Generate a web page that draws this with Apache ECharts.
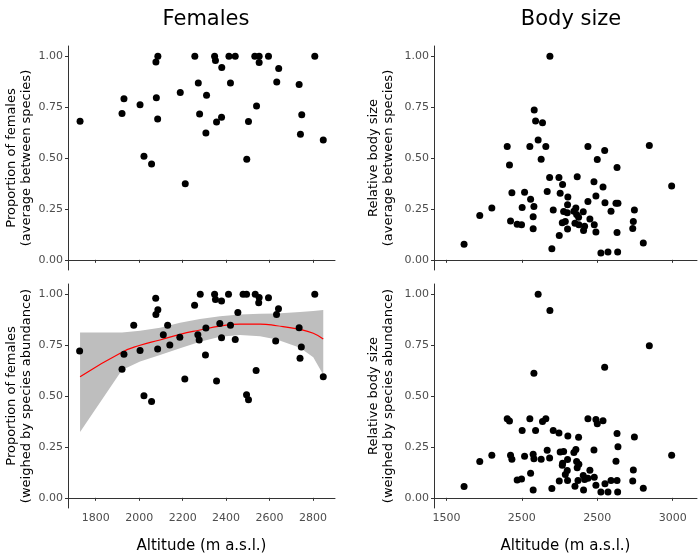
<!DOCTYPE html>
<html lang="en">
<head>
    <meta charset="UTF-8">
    <title>Females and body size by altitude</title>
    <script src="https://cdn.jsdelivr.net/npm/echarts@6/dist/echarts.min.js"></script>
    <style>
        body { margin: 0; background: #fff; }
        #main { width: 700px; height: 553px; }
    </style>
</head>
<body>
<div id="main"></div>
<script>
    // Females, average between species
    var femAvgAlt = [1728, 1921, 1930, 2004, 2022, 2057, 2077, 2086, 2079, 2085, 2189, 2212, 2256, 2272, 2278, 2307, 2310, 2347, 2351, 2356, 2379, 2380, 2413, 2420, 2442, 2495, 2503, 2532, 2540, 2552, 2552, 2595, 2633, 2642, 2736, 2742, 2748, 2808, 2847];
    var femAvgVal = [0.680, 0.719, 0.791, 0.762, 0.509, 0.470, 0.971, 1.0, 0.796, 0.692, 0.822, 0.374, 1.0, 0.868, 0.716, 0.623, 0.808, 1.0, 0.979, 0.677, 0.700, 0.945, 1.0, 0.868, 1.0, 0.494, 0.679, 1.0, 0.755, 1.0, 0.969, 1.0, 0.873, 0.940, 0.861, 0.617, 0.713, 1.0, 0.589];

    // Females, weighed by species abundance
    var femWAlt = [1726, 1921, 1930, 1975, 2004, 2022, 2057, 2076, 2077, 2086, 2085, 2111, 2131, 2141, 2187, 2210, 2255, 2270, 2276, 2281, 2305, 2307, 2347, 2351, 2356, 2371, 2379, 2379, 2411, 2420, 2442, 2454, 2478, 2494, 2494, 2503, 2538, 2534, 2552, 2550, 2595, 2632, 2641, 2628, 2736, 2746, 2740, 2808, 2847];
    var femWVal = [0.721, 0.631, 0.705, 0.847, 0.724, 0.501, 0.473, 0.980, 0.900, 0.923, 0.731, 0.801, 0.847, 0.750, 0.788, 0.584, 0.946, 0.801, 0.775, 1.0, 0.701, 0.834, 1.0, 0.974, 0.574, 0.856, 0.966, 0.786, 1.0, 0.848, 0.778, 0.910, 1.0, 1.0, 0.506, 0.481, 0.625, 1.0, 0.984, 0.958, 0.982, 0.900, 0.928, 0.770, 0.835, 0.741, 0.685, 1.0, 0.595];

    // loess fit + confidence band (weighed panel)
    var smoothAlt = [1728, 1921, 2004, 2096, 2188, 2280, 2372, 2464, 2556, 2633, 2740, 2801, 2847];
    var smoothFit = [0.595, 0.715, 0.749, 0.775, 0.803, 0.824, 0.843, 0.853, 0.853, 0.845, 0.827, 0.808, 0.780];
    var bandHi = [0.812, 0.812, 0.821, 0.835, 0.860, 0.878, 0.892, 0.900, 0.904, 0.905, 0.912, 0.918, 0.922];
    var bandLo = [0.323, 0.628, 0.669, 0.701, 0.734, 0.767, 0.791, 0.799, 0.794, 0.778, 0.737, 0.690, 0.604];

    // Body size, average between species
    var bodyAvgAlt = [1617, 1721, 1801, 1903, 1918, 1934, 1925, 1969, 1998, 2002, 2018, 2053, 2058, 2075, 2075, 2080, 2082, 2091, 2108, 2128, 2137, 2159, 2168, 2186, 2184, 2199, 2208, 2246, 2248, 2254, 2270, 2268, 2277, 2288, 2301, 2303, 2305, 2303, 2345, 2352, 2358, 2363, 2367, 2376, 2378, 2407, 2409, 2416, 2438, 2438, 2451, 2478, 2480, 2491, 2491, 2500, 2524, 2538, 2549, 2551, 2571, 2591, 2624, 2631, 2631, 2637, 2635, 2735, 2739, 2746, 2805, 2845, 2993];
    var bodyAvgVal = [0.077, 0.218, 0.254, 0.556, 0.466, 0.329, 0.191, 0.175, 0.172, 0.257, 0.332, 0.556, 0.298, 0.152, 0.211, 0.262, 0.736, 0.682, 0.589, 0.494, 0.673, 0.556, 0.336, 1.0, 0.404, 0.054, 0.245, 0.404, 0.119, 0.327, 0.370, 0.182, 0.237, 0.188, 0.231, 0.151, 0.308, 0.270, 0.239, 0.180, 0.254, 0.223, 0.408, 0.209, 0.172, 0.236, 0.144, 0.165, 0.556, 0.286, 0.200, 0.383, 0.172, 0.314, 0.136, 0.493, 0.033, 0.358, 0.537, 0.280, 0.038, 0.239, 0.278, 0.453, 0.134, 0.278, 0.038, 0.154, 0.188, 0.245, 0.082, 0.561, 0.363];

    // Body size, weighed by species abundance
    var bodyWAlt = [1617, 1721, 1801, 1903, 1918, 1925, 1934, 1969, 1998, 2002, 2018, 2053, 2058, 2075, 2080, 2075, 2080, 2091, 2108, 2128, 2137, 2159, 2168, 2186, 2184, 2199, 2208, 2246, 2248, 2254, 2270, 2268, 2277, 2288, 2301, 2303, 2305, 2303, 2345, 2352, 2358, 2363, 2367, 2376, 2378, 2372, 2407, 2409, 2416, 2438, 2438, 2451, 2478, 2480, 2491, 2491, 2500, 2524, 2538, 2549, 2551, 2571, 2591, 2624, 2631, 2631, 2637, 2635, 2735, 2739, 2746, 2805, 2845, 2993];
    var bodyWVal = [0.055, 0.178, 0.209, 0.388, 0.377, 0.209, 0.189, 0.088, 0.093, 0.331, 0.204, 0.388, 0.121, 0.214, 0.192, 0.038, 0.612, 0.330, 1.0, 0.189, 0.375, 0.388, 0.233, 0.920, 0.196, 0.046, 0.330, 0.318, 0.083, 0.225, 0.170, 0.160, 0.228, 0.114, 0.134, 0.188, 0.303, 0.085, 0.223, 0.057, 0.237, 0.178, 0.148, 0.297, 0.165, 0.085, 0.109, 0.038, 0.090, 0.388, 0.096, 0.135, 0.235, 0.101, 0.385, 0.062, 0.364, 0.029, 0.378, 0.641, 0.069, 0.029, 0.085, 0.179, 0.316, 0.085, 0.251, 0.029, 0.083, 0.137, 0.299, 0.047, 0.747, 0.209];

    // tick labels
    var yTicks = [0, 0.25, 0.5, 0.75, 1];
    var yTickText = ['0.00', '0.25', '0.50', '0.75', '1.00'];
    var femTicks = [1800, 2000, 2200, 2400, 2600, 2800];
    var bodyTicks = [1500, 2000, 2500, 3000];
    var bodyTickText = ['1500', '2500', '2500', '3000'];

    function zip(a, b) {
        return a.map(function (v, i) { return [v, b[i]]; });
    }

    var FONT = 'DejaVu Sans';
    var axisCol = '#333';

    function xAxisOpt(gi, min, max, ticks, texts, showLabel) {
        return {
            type: 'value', gridIndex: gi, min: min, max: max,
            splitLine: { show: false },
            axisLine: { lineStyle: { color: axisCol, width: 1 } },
            axisTick: { show: true, length: 3, lineStyle: { color: axisCol }, customValues: ticks },
            axisLabel: {
                show: showLabel, customValues: ticks, margin: 5,
                color: '#4d4d4d', fontSize: 11, fontFamily: FONT,
                formatter: function (v) {
                    var i = ticks.indexOf(v);
                    return i >= 0 ? texts[i] : '';
                }
            },
            name: showLabel ? 'Altitude (m a.s.l.)' : '',
            nameLocation: 'middle', nameGap: 29,
            nameTextStyle: { color: '#000', fontSize: 15, fontFamily: FONT, lineHeight: 18 }
        };
    }

    function yAxisOpt(gi, name, gap) {
        return {
            type: 'value', gridIndex: gi, min: -0.05, max: 1.05,
            splitLine: { show: false },
            axisLine: { show: true, lineStyle: { color: axisCol, width: 1 } },
            axisTick: { show: true, length: 3, lineStyle: { color: axisCol }, customValues: yTicks },
            axisLabel: {
                customValues: yTicks, margin: 5,
                color: '#4d4d4d', fontSize: 11, fontFamily: FONT,
                formatter: function (v) {
                    var i = yTicks.indexOf(v);
                    return i >= 0 ? yTickText[i] : '';
                }
            },
            name: name, nameLocation: 'middle', nameGap: gap, nameRotate: 90,
            nameTextStyle: { color: '#000', fontSize: 13, fontFamily: FONT, lineHeight: 15 }
        };
    }

    function dots(xi, xs, ys) {
        return {
            type: 'scatter', xAxisIndex: xi, yAxisIndex: xi,
            data: zip(xs, ys), symbolSize: 7, z: 5,
            itemStyle: { color: '#000', opacity: 1 }
        };
    }

    var chart = echarts.init(document.getElementById('main'), null, { renderer: 'canvas' });

    var option = {
        animation: false,
        backgroundColor: '#fff',
        title: [
            { text: 'Females', left: 201, top: 4, textAlign: 'center',
              textStyle: { fontSize: 21, fontWeight: 'normal', color: '#000', fontFamily: FONT } },
            { text: 'Body size', left: 566, top: 4, textAlign: 'center',
              textStyle: { fontSize: 21, fontWeight: 'normal', color: '#000', fontFamily: FONT } }
        ],
        grid: [
            { left: 68, top: 46, width: 267, height: 224, outerBoundsMode: 'none' },
            { left: 68, top: 284, width: 267, height: 224, outerBoundsMode: 'none' },
            { left: 434, top: 46, width: 263, height: 224, outerBoundsMode: 'none' },
            { left: 434, top: 284, width: 263, height: 224, outerBoundsMode: 'none' }
        ],
        xAxis: [
            xAxisOpt(0, 1672.5, 2901, femTicks, femTicks, false),
            xAxisOpt(1, 1672.5, 2901, femTicks, femTicks, true),
            xAxisOpt(2, 1417.7, 3161, bodyTicks, bodyTickText, false),
            xAxisOpt(3, 1417.7, 3161, bodyTicks, bodyTickText, true)
        ],
        yAxis: [
            yAxisOpt(0, 'Proportion of females\n(average between species)', 33),
            yAxisOpt(1, 'Proportion of females\n(weighed by species abundance)', 33),
            yAxisOpt(2, 'Relative body size\n(average between species)', 38),
            yAxisOpt(3, 'Relative body size\n(weighed by species abundance)', 38)
        ],
        series: [
            dots(0, femAvgAlt, femAvgVal),
            {
                // grey confidence band, built from the band arrays through the axes
                type: 'custom', xAxisIndex: 1, yAxisIndex: 1, data: [0], z: 2, silent: true,
                renderItem: function (params, api) {
                    var pts = [];
                    for (var i = 0; i < smoothAlt.length; i++) pts.push(api.coord([smoothAlt[i], bandHi[i]]));
                    for (var j = smoothAlt.length - 1; j >= 0; j--) pts.push(api.coord([smoothAlt[j], bandLo[j]]));
                    return { type: 'polygon', shape: { points: pts }, style: { fill: '#bebebe' } };
                }
            },
            dots(1, femWAlt, femWVal),
            {
                type: 'line', xAxisIndex: 1, yAxisIndex: 1, data: zip(smoothAlt, smoothFit),
                smooth: true, showSymbol: false, z: 4,
                lineStyle: { color: '#ff0000', width: 1.2 }
            },
            dots(2, bodyAvgAlt, bodyAvgVal),
            dots(3, bodyWAlt, bodyWVal)
        ]
    };

    chart.setOption(option);
</script>
</body>
</html>
